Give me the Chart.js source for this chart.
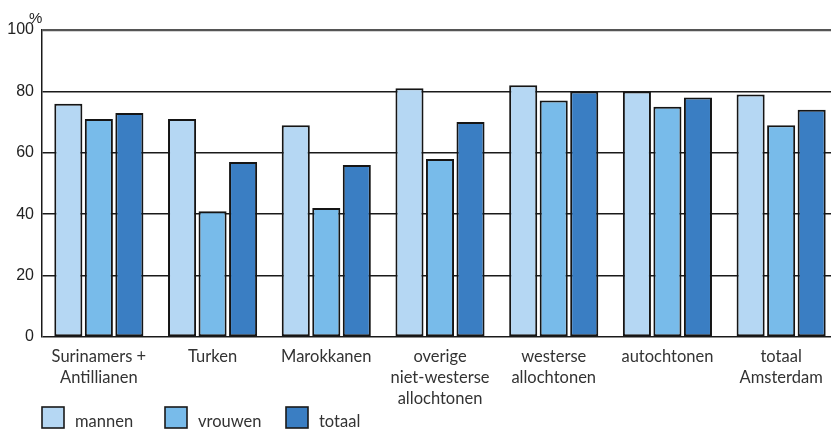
<!DOCTYPE html>
<html>
<head>
<meta charset="utf-8">
<script src="https://cdn.jsdelivr.net/npm/chart.js@4.4.1/dist/chart.umd.min.js"></script>
<style>
  html, body { margin: 0; padding: 0; background: #fff; overflow: hidden; }
  #wrap { width: 838px; height: 431px; }
</style>
</head>
<body>
<div id="wrap"><canvas id="chart1" width="838" height="431"></canvas></div>
<script>
// groepen en waarden (procenten)
const groepen = [
  ['Surinamers +', 'Antillianen'],
  'Turken',
  'Marokkanen',
  ['overige', 'niet-westerse', 'allochtonen'],
  ['westerse', 'allochtonen'],
  'autochtonen',
  ['totaal', 'Amsterdam']
];
const mannen  = [76, 71, 69, 81, 82, 80, 79];
const vrouwen = [71, 41, 42, 58, 77, 75, 69];
const totaal  = [73, 57, 56, 70, 80, 78, 74];
const yTicks = [0, 20, 40, 60, 80, 100];

const kleuren = ['#b5d7f3', '#78bbea', '#3a7ec3'];
const labelFont = "Lato, 'Open Sans', sans-serif";
const narrowFont = "'Liberation Sans Narrow', 'Liberation Sans', sans-serif";

// legenda onderaan + % boven de as
const extras = {
  id: 'extras',
  afterDraw(chart) {
    const ctx = chart.ctx;
    ctx.save();
    ctx.font = '15px ' + narrowFont;
    ctx.fillStyle = '#222';
    ctx.textBaseline = 'alphabetic';
    ctx.fillText('%', 29, 23);

    const xs = [42, 165, 286];
    ctx.font = '16.5px ' + labelFont;
    chart.data.datasets.forEach(function(ds, i) {
      ctx.fillStyle = ds.backgroundColor;
      ctx.fillRect(xs[i], 407, 22, 21);
      ctx.strokeStyle = '#1a1a1a';
      ctx.lineWidth = 1.6;
      ctx.strokeRect(xs[i], 407, 22, 21);
      ctx.fillStyle = '#333';
      ctx.fillText(ds.label, xs[i] + 33, 427);
    });
    ctx.restore();
  }
};

new Chart(document.getElementById('chart1'), {
  type: 'bar',
  data: {
    labels: groepen,
    datasets: [
      { label: 'mannen',  data: mannen,  backgroundColor: kleuren[0] },
      { label: 'vrouwen', data: vrouwen, backgroundColor: kleuren[1] },
      { label: 'totaal',  data: totaal,  backgroundColor: kleuren[2] }
    ]
  },
  options: {
    responsive: false,
    animation: false,
    categoryPercentage: 0.805,
    barPercentage: 0.92,
    borderColor: '#151515',
    borderWidth: 2,
    borderSkipped: false,
    layout: { padding: { top: 30, right: 0, left: 0, bottom: 0 } },
    plugins: {
      legend: { display: false },
      tooltip: { enabled: false }
    },
    scales: {
      x: {
        grid: { display: false },
        border: { display: false },
        ticks: {
          color: '#333',
          font: { family: labelFont, size: 16.5, lineHeight: 1.28 },
          padding: 1,
          maxRotation: 0,
          autoSkip: false
        },
        afterFit(scale) { scale.height = 94; }
      },
      y: {
        min: 0,
        max: 100,
        afterBuildTicks(scale) { scale.ticks = yTicks.map(v => ({ value: v })); },
        grid: {
          drawTicks: false,
          color: ctx => ctx.tick && ctx.tick.value === 100 ? '#555' : '#1a1a1a',
          lineWidth: ctx => ctx.tick && ctx.tick.value === 100 ? 2.2 : 1.5
        },
        border: { display: true, color: '#1a1a1a', width: 1.5 },
        ticks: {
          color: '#222',
          padding: 8,
          font: { family: narrowFont, size: 16 }
        },
        afterFit(scale) { scale.width = 42; }
      }
    }
  },
  plugins: [extras]
});
</script>
</body>
</html>
